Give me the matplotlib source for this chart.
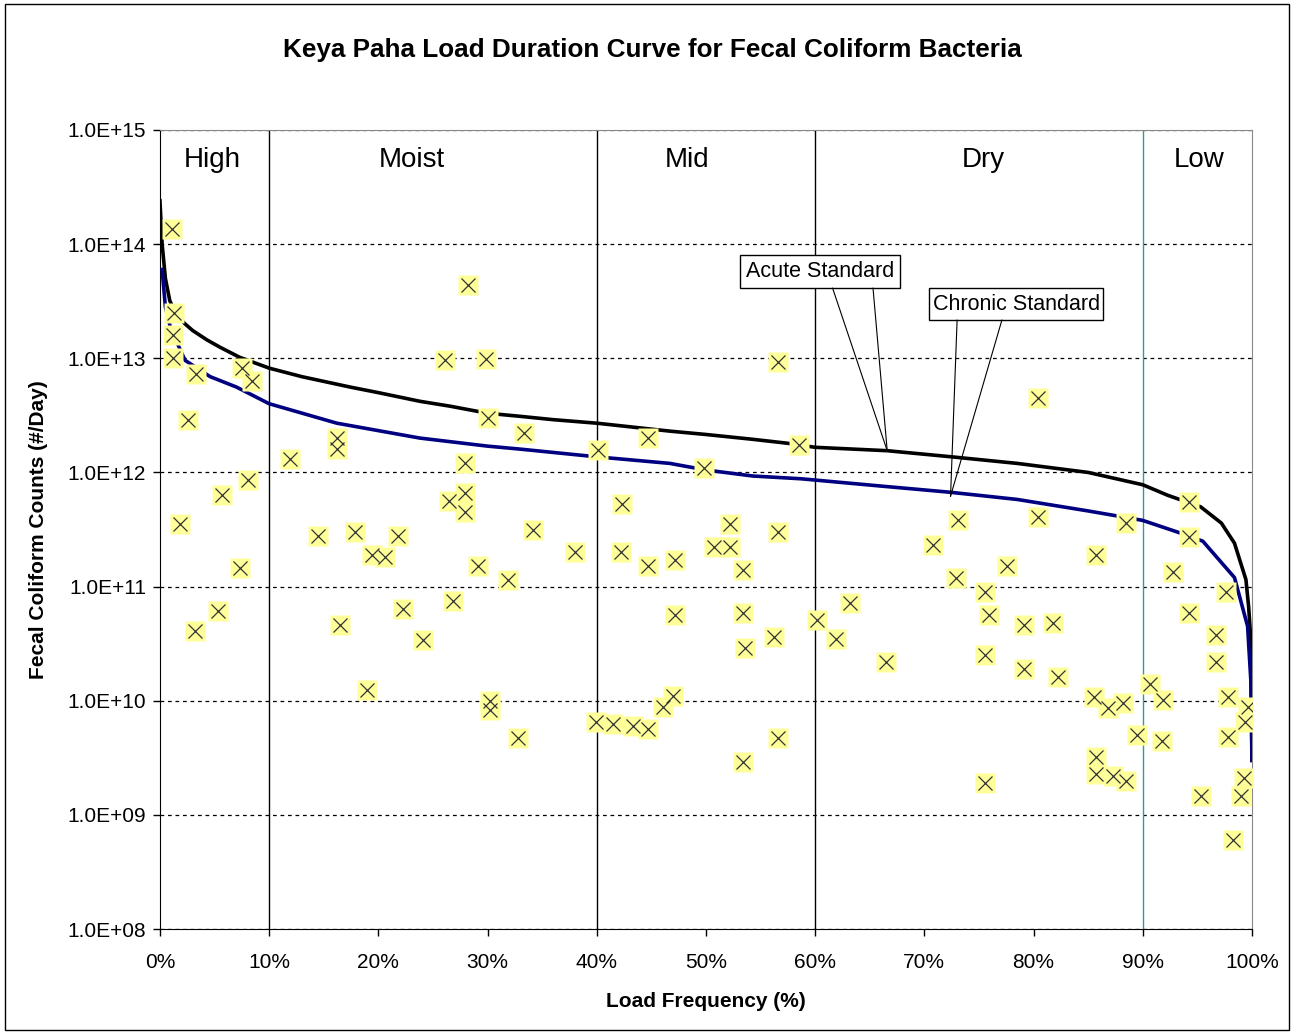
import matplotlib.pyplot as plt
import matplotlib.ticker as ticker
import matplotlib.transforms as mtransforms
from matplotlib.patches import Rectangle
import numpy as np

plt.rcParams['font.family'] = ['Liberation Sans', 'DejaVu Sans']

# load duration curves
acute_pct = [0.0, 0.2, 0.5, 0.9, 1.5, 2.3, 3.0, 4.3, 5.5, 7.3, 10.0, 13.0, 17.4, 20.0,
             23.8, 26.6, 30.0, 33.0, 36.0, 40.0, 46.7, 50.0, 54.3, 57.5, 60.0, 66.6,
             72.5, 78.5, 85.0, 90.0, 92.3, 95.3, 97.2, 98.4, 99.45, 99.7, 99.9, 100.0]
acute_load = [2.4e14, 1.0e14, 5.0e13, 3.2e13, 2.4e13, 2.0e13, 1.75e13, 1.45e13, 1.25e13,
              1.02e13, 8.2e12, 6.9e12, 5.6e12, 5.0e12, 4.2e12, 3.8e12, 3.3e12, 3.1e12,
              2.9e12, 2.7e12, 2.3e12, 2.15e12, 1.95e12, 1.8e12, 1.66e12, 1.55e12,
              1.37e12, 1.2e12, 1.0e12, 7.8e11, 6.3e11, 5.0e11, 3.6e11, 2.4e11, 1.15e11,
              6.6e10, 3.4e10, 3.0e9]

chronic_pct = [0.2, 0.5, 1.0, 2.3, 4.6, 7.0, 10.0, 16.2, 23.8, 30.0, 33.0, 40.0, 46.7,
               50.0, 54.3, 58.7, 66.0, 72.4, 78.5, 85.0, 90.0, 93.2, 95.5, 98.4, 99.6,
               99.9, 100.0]
chronic_load = [6.0e13, 2.8e13, 1.8e13, 9.6e12, 6.9e12, 5.6e12, 4.0e12, 2.7e12, 2.0e12,
                1.7e12, 1.6e12, 1.37e12, 1.2e12, 1.05e12, 9.3e11, 8.8e11, 7.6e11, 6.7e11,
                5.8e11, 4.6e11, 3.8e11, 3.0e11, 2.5e11, 1.2e11, 4.5e10, 1.5e10, 3.0e9]

# observed samples
sample_pct = [1.1, 1.3, 1.2, 1.2, 3.3, 2.6, 1.8, 3.2, 5.3, 5.7, 7.3, 8.1, 7.5, 8.4,
              11.9, 16.2, 16.2, 14.5, 17.9, 19.4, 20.6, 21.8, 16.5, 22.3, 24.1, 19.0,
              26.1, 28.2, 29.9, 30.0, 27.9, 26.5, 27.9, 27.9, 29.1, 26.8, 31.9, 30.2,
              30.2, 32.8, 33.3, 34.2, 38.0,
              40.1, 44.7, 49.8, 56.6, 58.5, 42.3, 42.2, 44.7, 47.2, 50.7, 52.2, 52.2,
              53.4, 56.6, 47.2, 53.4, 56.2, 53.6, 60.2, 39.9, 41.5, 43.3, 44.7, 46.1,
              47.0, 56.6, 53.4,
              80.4, 73.1, 80.4, 88.5, 70.8, 77.6, 85.7, 72.9, 75.6, 75.9, 63.2, 61.9,
              66.5, 79.1, 81.8, 75.6, 79.1, 82.2, 85.5, 86.8, 88.2, 89.5, 85.7, 85.7,
              87.3, 88.5, 75.6,
              94.2, 94.2, 92.8, 97.6, 94.2, 96.7, 96.7, 90.7, 91.9, 97.8, 99.6, 99.4,
              91.8, 97.8, 99.3, 99.0, 95.3, 98.3]
sample_count = [1.35e14, 2.5e13, 1.6e13, 1.0e13, 7.3e12, 2.9e12, 3.5e11, 4.1e10, 6.1e10,
                6.4e11, 1.45e11, 8.6e11, 8.3e12, 6.3e12,
                1.3e12, 2.0e12, 1.6e12, 2.8e11, 3.0e11, 1.9e11, 1.8e11, 2.8e11, 4.6e10,
                6.4e10, 3.4e10, 1.25e10, 9.7e12, 4.4e13, 9.8e12, 3.0e12, 1.2e12, 5.6e11,
                6.6e11, 4.5e11, 1.5e11, 7.5e10, 1.15e11, 1.0e10, 8.3e9, 4.7e9, 2.2e12,
                3.1e11, 2.0e11,
                1.58e12, 2.0e12, 1.1e12, 9.3e12, 1.74e12, 5.3e11, 2.0e11, 1.5e11, 1.7e11,
                2.2e11, 2.2e11, 3.5e11, 1.4e11, 3.0e11, 5.6e10, 5.9e10, 3.6e10, 2.9e10,
                5.1e10, 6.5e9, 6.2e9, 6.0e9, 5.7e9, 8.9e9, 1.1e10, 4.7e9, 2.9e9,
                4.5e12, 3.8e11, 4.1e11, 3.6e11, 2.3e11, 1.5e11, 1.9e11, 1.2e11, 8.9e10,
                5.6e10, 7.2e10, 3.5e10, 2.2e10, 4.6e10, 4.8e10, 2.5e10, 1.9e10, 1.6e10,
                1.07e10, 8.7e9, 9.6e9, 5.0e9, 3.2e9, 2.3e9, 2.2e9, 2.0e9, 1.9e9,
                5.5e11, 2.7e11, 1.35e11, 8.9e10, 5.9e10, 3.8e10, 2.2e10, 1.4e10, 1.02e10,
                1.07e10, 8.9e9, 6.5e9, 4.4e9, 4.8e9, 2.1e9, 1.45e9, 1.45e9, 6.0e8]

zone_names = ["High", "Moist", "Mid", "Dry", "Low"]
zone_centers = [4.8, 23.1, 48.3, 75.4, 95.2]
zone_bounds = [10, 40, 60, 90]
y_ticks = [1e8, 1e9, 1e10, 1e11, 1e12, 1e13, 1e14, 1e15]

fig = plt.figure(figsize=(12.94, 10.34), dpi=100)
ax = fig.add_axes([0.1236, 0.1015, 0.8439, 0.7728])

ax.plot(acute_pct, acute_load, color='black', lw=2.6, zorder=3)
ax.plot(chronic_pct, chronic_load, color='#000080', lw=2.6, zorder=3)

ax.plot(sample_pct, sample_count, ls='none', marker='s', ms=15,
        mfc='#FFFF99', mec='none', zorder=4)
ax.plot(sample_pct, sample_count, ls='none', marker='x', ms=10.5, mew=0.9,
        color='#333333', zorder=5)

for b in zone_bounds:
    c = '#339999' if b == 90 else 'black'
    ax.axvline(b, color=c, lw=1, zorder=2)

ax.set_yscale('log')
ax.set_ylim(1e8, 1e15)
ax.set_xlim(0, 100)
ax.set_yticks(y_ticks)
ax.yaxis.set_minor_locator(ticker.NullLocator())
ax.yaxis.set_major_formatter(ticker.FuncFormatter(lambda v, p: f"{v:.1E}"))
ax.set_xticks(np.arange(0, 101, 10))
ax.xaxis.set_major_formatter(ticker.FuncFormatter(lambda v, p: f"{int(round(v))}%"))
ax.tick_params(axis='both', direction='out', length=5, width=1, labelsize=15)
ax.tick_params(axis='y', pad=5)
ax.tick_params(axis='x', pad=12)
ax.yaxis.grid(True, ls=(0, (3, 3)), color='black', lw=0.9)

for s in ['left', 'bottom']:
    ax.spines[s].set_color('black')
for s in ['top', 'right']:
    ax.spines[s].set_color('#888888')

trans = mtransforms.blended_transform_factory(ax.transData, ax.transAxes)
for name, c in zip(zone_names, zone_centers):
    ax.text(c, 0.962, name, transform=trans, ha='center', va='center', fontsize=20)

# callout boxes
def callout(text, box, base, tip):
    x0, y0, w, h = box
    ax.add_patch(Rectangle((x0, y0), w, h, transform=ax.transAxes, fc='white',
                           ec='black', lw=1, zorder=6))
    ax.text(x0 + w / 2, y0 + h / 2, text, transform=ax.transAxes, ha='center',
            va='center', fontsize=15.5, zorder=7)
    tx, ty = ax.transAxes.inverted().transform(ax.transData.transform(tip))
    for bx in base:
        ax.plot([bx, tx], [y0, ty], color='black', lw=0.8, transform=ax.transAxes,
                zorder=6)

callout("Acute Standard", (0.531, 0.802, 0.147, 0.042), (0.616, 0.653), (66.6, 1.55e12))
callout("Chronic Standard", (0.704, 0.762, 0.160, 0.040), (0.730, 0.771), (72.4, 6.2e11))

ax.set_xlabel("Load Frequency (%)", fontsize=15, fontweight='bold', labelpad=15)
ax.set_ylabel("Fecal Coliform Counts (#/Day)", fontsize=15, fontweight='bold', labelpad=14)

fig.text(0.504, 0.9516, "Keya Paha Load Duration Curve for Fecal Coliform Bacteria",
         ha='center', va='center', fontsize=18.8, fontweight='bold')

fig.add_artist(Rectangle((0.004, 0.004), 0.992, 0.992, transform=fig.transFigure,
                         fill=False, ec='black', lw=1))

fig.savefig("out.png", dpi=100)
